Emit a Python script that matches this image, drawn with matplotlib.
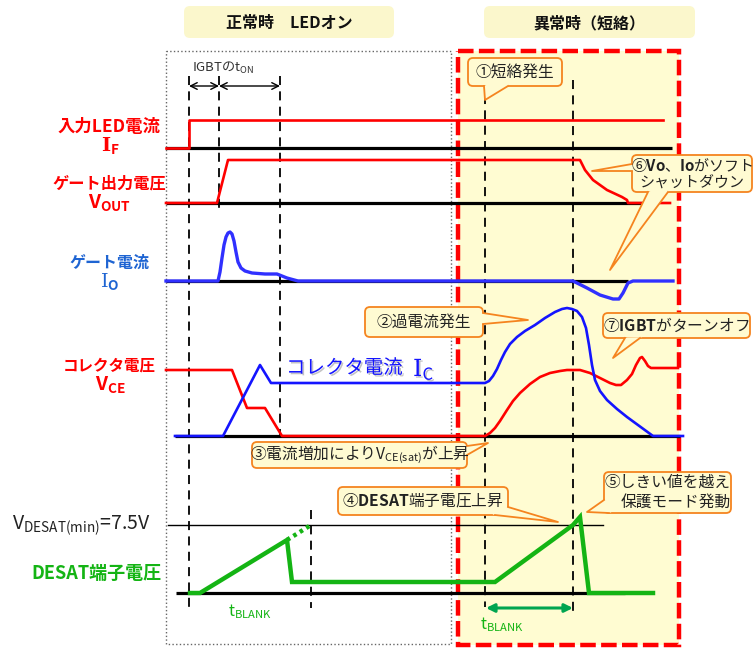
import numpy as np
import matplotlib.pyplot as plt
import matplotlib.patheffects as pe
from matplotlib.patches import FancyBboxPatch, Polygon

plt.rcParams['font.family'] = ['Noto Sans CJK JP', 'DejaVu Sans']
plt.rcParams['mathtext.fontset'] = 'custom'
plt.rcParams['mathtext.rm'] = 'Noto Sans CJK JP'
plt.rcParams['mathtext.bf'] = 'Noto Sans CJK JP:bold'
plt.rcParams['mathtext.it'] = 'Noto Sans CJK JP'

# 波形データ（横: 時間[px]、縦: 画面上の高さ[px]）
# 入力LED電流 I_F
if_x = [166, 189, 189, 663]
if_y = [148, 148, 120, 120]

# ゲート出力電圧 V_OUT
vout_x = [166, 217, 228, 580, 585, 593, 607, 622, 627, 628, 670]
vout_y = [203, 203, 160, 160, 170, 180, 190, 197, 200, 203, 203]

# ゲート電流 I_O
io_x = [166, 218, 220, 222, 224, 226, 228, 230, 232, 234, 236, 238, 241, 245,
        252, 265, 277, 287, 298,
        573, 587, 600, 613, 619, 623, 628, 633, 673]
io_y = [281, 281, 272, 258, 245, 237, 233, 232, 234, 241, 252, 262, 268, 271,
        273, 274, 274, 278, 281,
        281, 288, 295, 299, 299, 293, 283, 281, 281]

# コレクタ電圧 V_CE
vce_x = [166, 232, 247, 265, 282, 485, 490, 495, 500, 507, 513, 520, 530, 540,
         550, 560, 567, 580, 590, 600, 610, 616, 621, 627, 632, 636, 640, 642,
         645, 648, 651, 678]
vce_y = [370, 370, 408, 408, 436, 436, 433, 428, 421, 410, 401, 393, 384, 377,
         373, 371, 370, 370, 373, 378, 383, 385, 385, 380, 374, 365, 358, 357,
         361, 366, 368, 368]

# コレクタ電流 I_C
ic_x = [175, 223, 260, 271, 485, 489, 493, 497, 501, 505, 510, 517, 525, 535,
        545, 555, 562, 567, 572, 577, 582, 586, 589, 592, 595, 600, 607, 617,
        627, 653, 683]
ic_y = [436, 436, 365, 383, 383, 381, 376, 369, 360, 352, 344, 337, 331, 325,
        318, 312, 309, 308, 309, 311, 317, 328, 345, 365, 380, 391, 400, 409,
        417, 436, 436]

# DESAT端子電圧
desat_x = [190, 200, 287, 292, 495, 573, 580, 589, 653]
desat_y = [593, 593, 540, 582, 582, 525, 517, 593, 593]
desat_dot_x = [287, 311]
desat_dot_y = [540, 525]

red = '#FF0000'
blue = '#1414FF'
green = '#14B414'
orange = '#F5841F'
cfill = '#FFFBD2'

fig = plt.figure(figsize=(7.53, 6.48), dpi=100)
ax = fig.add_axes([0, 0, 1, 1])
ax.set_xlim(0, 753)
ax.set_ylim(648, 0)
ax.axis('off')

# 背景の枠
ax.add_patch(FancyBboxPatch((458, 51), 221, 594, boxstyle='square,pad=0',
                            fc='#FFFCD2', ec=red, lw=3.2, ls=(0, (3.5, 1.2)), zorder=1))
ax.add_patch(FancyBboxPatch((166, 51), 285, 593, boxstyle='square,pad=0',
                            fc='none', ec='#666666', lw=1.0, ls=':', zorder=1))

# 見出し
for (x0, x1, txt) in [(184, 394, '正常時　LEDオン'), (484, 695, '異常時（短絡）')]:
    ax.add_patch(FancyBboxPatch((x0, 6), x1 - x0, 32, boxstyle='round,pad=0,rounding_size=6',
                                fc='#FBF7CC', ec='none', zorder=1))
    ax.text((x0 + x1) / 2, 23, txt, ha='center', va='center', fontsize=11.5,
            fontweight='bold', color='#111111', zorder=2)

# 破線（時刻の目印）
for (x, y0, y1) in [(189, 76, 610), (219, 76, 212), (280, 76, 437), (311, 510, 608),
                    (485, 95, 607), (573, 80, 617)]:
    ax.plot([x, x], [y0, y1], color='black', lw=1.3, dashes=(5, 3.5), zorder=3)

# 基準線
for (y, x0, x1) in [(148, 166, 672), (203, 166, 650), (281, 166, 628),
                    (436, 175, 680), (593, 176, 625)]:
    ax.plot([x0, x1], [y, y], color='black', lw=2.3, zorder=3, solid_capstyle='butt')
ax.plot([168, 603], [525, 525], color='black', lw=1.0, zorder=3)

# 波形
ax.plot(if_x, if_y, color=red, lw=1.9, zorder=4)
ax.plot(vout_x, vout_y, color=red, lw=1.9, zorder=4)
ax.plot(io_x, io_y, color='#3030FF', lw=2.4, zorder=4)
ax.plot(vce_x, vce_y, color=red, lw=1.9, zorder=4)
ax.plot(ic_x, ic_y, color=blue, lw=1.9, zorder=4)
ax.plot(desat_x, desat_y, color=green, lw=3.2, zorder=4, solid_joinstyle='miter')
ax.plot(desat_dot_x, desat_dot_y, color=green, lw=3.2, ls=(0, (0.8, 0.9)), zorder=4)

# t_ON 矢印
for (xa, xb) in [(189, 219), (219, 280)]:
    ax.annotate('', xy=(xa, 86), xytext=(xb, 86),
                arrowprops=dict(arrowstyle='<->', color='black', lw=1.0,
                                shrinkA=0, shrinkB=0, mutation_scale=12), zorder=5)
ax.text(192, 68, r'IGBTのt$\mathregular{_{ON}}$', fontsize=9.5, color='#333333',
        ha='left', va='center', zorder=5)

# t_BLANK 矢印
ax.annotate('', xy=(486, 608), xytext=(573, 608),
            arrowprops=dict(arrowstyle='<|-|>', color='#00A550', lw=2.2,
                            shrinkA=0, shrinkB=0, mutation_scale=12), zorder=5)
ax.text(228, 612, r't$\mathregular{_{BLANK}}$', fontsize=11.5, color=green,
        ha='left', va='center', zorder=5)
ax.text(480, 625, r't$\mathregular{_{BLANK}}$', fontsize=11.5, color=green,
        ha='left', va='center', zorder=5)


def callout(x0, y0, x1, y1, txt, ptrs, ma='center', fs=11.3):
    ax.add_patch(FancyBboxPatch((x0, y0), x1 - x0, y1 - y0,
                                boxstyle='round,pad=0,rounding_size=5',
                                fc=cfill, ec=orange, lw=1.3, zorder=6))
    cx, cy = (x0 + x1) / 2, (y0 + y1) / 2
    for (a, b, tip) in ptrs:
        pts = []
        for p in (a, b):
            d = np.array([cx - p[0], cy - p[1]])
            pts.append(np.array(p) + d / np.hypot(*d) * 2.5)
        ax.add_patch(Polygon([pts[0], a, tip, b, pts[1]], closed=True, fc=cfill,
                             ec='none', zorder=7))
        ax.plot([a[0], tip[0], b[0]], [a[1], tip[1], b[1]], color=orange, lw=1.3, zorder=7)
    ax.text(cx, cy, txt, ha='center', va='center', multialignment=ma, fontsize=fs,
            color='#222222', zorder=8, linespacing=1.25)


callout(468, 58, 562, 86, '①短絡発生', [((484, 86), (508, 86), (485, 100))])
callout(365, 307, 483, 337, '②過電流発生', [((483, 313), (483, 324), (528, 320))])
callout(252, 442, 467, 468, r'③電流増加によりV$\mathregular{_{CE(sat)}}$が上昇',
        [((467, 446), (467, 455), (488, 443))])
callout(338, 487, 508, 515, r'④$\mathbf{DESAT}$端子電圧上昇',
        [((495, 515), (508, 507), (558, 522))])
callout(604, 472, 731, 513, '⑤しきい値を越え\n保護モード発動',
        [((604, 500), (609, 513), (587, 512))], ma='right')
callout(632, 155, 752, 192, r'⑥$\mathbf{Vo}$、$\mathbf{Io}$がソフト' + '\nシャットダウン',
        [((632, 164), (632, 171), (592, 171)), ((648, 192), (668, 192), (610, 270))],
        fs=10.8)
callout(603, 313, 750, 338, r'⑦$\mathbf{IGBT}$がターンオフ',
        [((625, 338), (640, 338), (613, 358))])

# 左側の信号名
labels = [
    (127, '入力LED電流', r'$\mathbf{I}_{\mathregular{F}}$', red, 12.5, True),
    (184, 'ゲート出力電圧', r'$\mathregular{V_{OUT}}$', red, 11.7, False),
    (263, 'ゲート電流', r'$\mathrm{I}_{\mathregular{O}}$', '#1E64D2', 11.5, True),
    (366, 'コレクタ電圧', r'$\mathregular{V_{CE}}$', red, 11.2, False),
]
for (y, name, sym, col, fs, serif) in labels:
    ax.text(109, y, name, ha='center', va='center', fontsize=fs, fontweight='bold', color=col)
    ax.text(110, y + 19, sym, ha='center', va='center', fontsize=14,
            fontweight='bold', color=col,
            math_fontfamily='dejavuserif' if serif else 'custom')

ax.text(162, 573, 'DESAT端子電圧', ha='right', va='center', fontsize=13,
        fontweight='bold', color=green)
ax.text(12, 526, r'V$\mathregular{_{DESAT(min)}}$=7.5V', ha='left', va='center',
        fontsize=14, color='#222222')
shadow = [pe.withSimplePatchShadow(offset=(1.2, -1.2), shadow_rgbFace='#888888', alpha=0.5)]
ax.text(286, 368, 'コレクタ電流', ha='left', va='center', fontsize=14,
        color=blue, zorder=5, path_effects=shadow)
ax.text(413, 369, r'$\mathrm{I}_{\mathregular{C}}$', ha='left', va='center', fontsize=17,
        color=blue, zorder=5, math_fontfamily='dejavuserif', path_effects=shadow)

plt.savefig('out.png', dpi=100)
